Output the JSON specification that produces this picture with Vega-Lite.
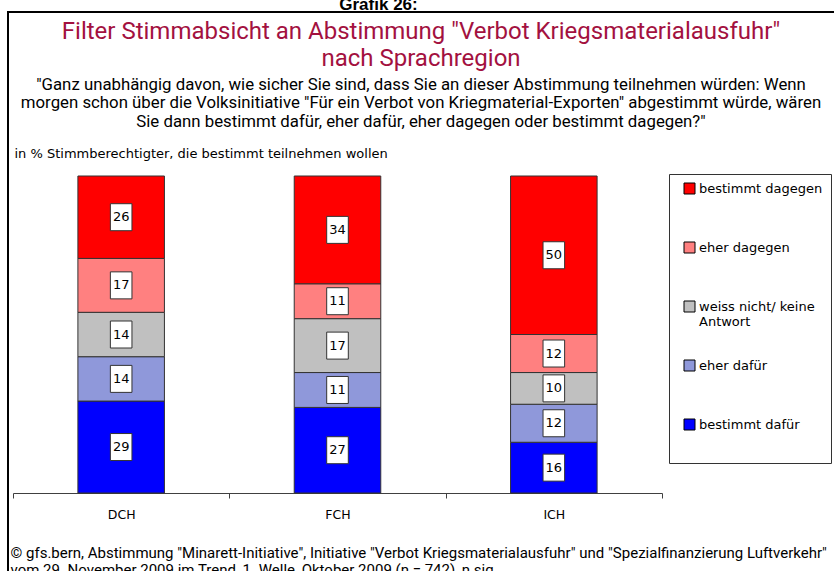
{
  "$schema": "https://vega.github.io/schema/vega-lite/v6.json",
  "width": 826,
  "height": 559,
  "autosize": {"type": "none"},
  "padding": {"left": 8, "top": 12, "right": 0, "bottom": 0},
  "background": "white",
  "config": {
    "view": {"stroke": "black", "strokeWidth": 2, "strokeDash": [826, 1385, 559]},
    "font": "DejaVu Sans"
  },
  "title": {
    "text": ["Filter Stimmabsicht an Abstimmung \"Verbot Kriegsmaterialausfuhr\"", "nach Sprachregion"],
    "subtitle": ["\"Ganz unabhängig davon, wie sicher Sie sind, dass Sie an dieser Abstimmung teilnehmen würden: Wenn", "morgen schon über die Volksinitiative \"Für ein Verbot von Kriegmaterial-Exporten\" abgestimmt würde, wären", "Sie dann bestimmt dafür, eher dafür, eher dagegen oder bestimmt dagegen?\""],
    "anchor": "middle",
    "frame": "group",
    "offset": -135,
    "font": "Roboto",
    "fontSize": 24,
    "fontWeight": "normal",
    "color": "#A3113F",
    "lineHeight": 27,
    "subtitleFont": "Roboto",
    "subtitleFontSize": 16.8,
    "subtitleColor": "black",
    "subtitleLineHeight": 18.5,
    "subtitlePadding": 6
  },
  "data": {
    "values": [
      {"region": "DCH", "cat": "bestimmt dafür", "rank": 1, "value": 29},
      {"region": "DCH", "cat": "eher dafür", "rank": 2, "value": 14},
      {"region": "DCH", "cat": "weiss nicht/ keine Antwort", "rank": 3, "value": 14},
      {"region": "DCH", "cat": "eher dagegen", "rank": 4, "value": 17},
      {"region": "DCH", "cat": "bestimmt dagegen", "rank": 5, "value": 26},
      {"region": "FCH", "cat": "bestimmt dafür", "rank": 1, "value": 27},
      {"region": "FCH", "cat": "eher dafür", "rank": 2, "value": 11},
      {"region": "FCH", "cat": "weiss nicht/ keine Antwort", "rank": 3, "value": 17},
      {"region": "FCH", "cat": "eher dagegen", "rank": 4, "value": 11},
      {"region": "FCH", "cat": "bestimmt dagegen", "rank": 5, "value": 34},
      {"region": "ICH", "cat": "bestimmt dafür", "rank": 1, "value": 16},
      {"region": "ICH", "cat": "eher dafür", "rank": 2, "value": 12},
      {"region": "ICH", "cat": "weiss nicht/ keine Antwort", "rank": 3, "value": 10},
      {"region": "ICH", "cat": "eher dagegen", "rank": 4, "value": 12},
      {"region": "ICH", "cat": "bestimmt dagegen", "rank": 5, "value": 50}
    ]
  },
  "transform": [
    {"stack": "value", "groupby": ["region"], "sort": [{"field": "rank", "order": "ascending"}], "as": ["y0", "y1"]}
  ],
  "layer": [
    {
      "mark": {"type": "bar", "stroke": "#333333", "strokeWidth": 1, "width": {"band": 0.4}},
      "encoding": {
        "x": {
          "field": "region", "type": "nominal",
          "scale": {"domain": ["DCH", "FCH", "ICH"], "range": [5, 654], "paddingInner": 0, "paddingOuter": 0},
          "axis": {
            "orient": "bottom", "offset": -78, "grid": false,
            "domain": true, "domainColor": "#404040", "domainWidth": 1,
            "ticks": true, "tickBand": "extent", "tickColor": "#404040", "tickSize": 5,
            "labelAngle": 0, "labelFont": "DejaVu Sans", "labelFontSize": 12.5, "labelColor": "black", "labelPadding": 10,
            "title": ["© gfs.bern, Abstimmung \"Minarett-Initiative\", Initiative \"Verbot Kriegsmaterialausfuhr\" und \"Spezialfinanzierung Luftverkehr\"", "vom 29. November 2009 im Trend, 1. Welle, Oktober 2009 (n = 742), n sig."],
            "titleFont": "Roboto", "titleFontSize": 15, "titleFontWeight": "normal", "titleColor": "black",
            "titleAlign": "left", "titleAnchor": "start", "titleBaseline": "alphabetic",
            "titleX": 2, "titleY": 64, "titleLineHeight": 17
          }
        },
        "y": {
          "field": "y1", "type": "quantitative",
          "scale": {"domain": [0, 100], "range": [481, 164]},
          "axis": {
            "domain": false, "ticks": false, "labels": false, "grid": false,
            "title": "in % Stimmberechtigter, die bestimmt teilnehmen wollen",
            "titleAngle": 0, "titleAlign": "left", "titleBaseline": "middle",
            "titleX": 6, "titleY": 141,
            "titleFont": "DejaVu Sans", "titleFontSize": 13, "titleFontWeight": "normal", "titleColor": "black"
          }
        },
        "y2": {"field": "y0"},
        "color": {
          "field": "cat", "type": "nominal",
          "scale": {
            "domain": ["bestimmt dagegen", "eher dagegen", "weiss nicht/ keine Antwort", "eher dafür", "bestimmt dafür"],
            "range": ["#FF0000", "#FF8080", "#C0C0C0", "#8F98DA", "#0000FF"]
          },
          "legend": {
            "orient": "none", "legendX": 661, "legendY": 162,
            "title": " ", "titleOrient": "bottom", "titleFontSize": 13, "titlePadding": 10,
            "strokeColor": "#333333", "fillColor": "white", "padding": 8,
            "symbolType": "square", "symbolSize": 121, "symbolStrokeColor": "black", "symbolStrokeWidth": 1, "symbolOffset": 6,
            "labelFont": "DejaVu Sans", "labelFontSize": 13, "labelColor": "black", "labelOffset": 3, "labelLimit": 200,
            "rowPadding": 29, "gridAlign": "all",
            "labelExpr": "datum.label == 'weiss nicht/ keine Antwort' ? ['weiss nicht/ keine', 'Antwort'] : datum.label"
          }
        }
      }
    },
    {
      "transform": [
        {"fold": ["y0", "y1"], "as": ["k", "v"]},
        {"aggregate": [{"op": "mean", "field": "v", "as": "mid"}], "groupby": ["region", "cat", "value"]}
      ],
      "encoding": {
        "x": {
          "field": "region", "type": "nominal",
          "axis": {
            "orient": "top", "domain": false, "ticks": false, "labels": false, "grid": false,
            "title": "Grafik 26:", "titleFont": "Liberation Sans", "titleFontSize": 17, "titleFontWeight": "bold", "titleColor": "black",
            "titleAlign": "center", "titleBaseline": "alphabetic", "titleX": 370, "titleY": -2.5
          }
        },
        "y": {"field": "mid", "type": "quantitative", "axis": null}
      },
      "layer": [
        {"mark": {"type": "point", "shape": "M-0.8,-1H0.8V1H-0.8Z", "filled": true, "fill": "white", "stroke": "#333333", "strokeWidth": 1, "size": 729, "opacity": 1}},
        {"mark": {"type": "text", "font": "DejaVu Sans", "fontSize": 13, "color": "black", "baseline": "middle", "align": "center"},
         "encoding": {"text": {"field": "value", "type": "quantitative"}}}
      ]
    }
  ],
  "resolve": {"axis": {"x": "independent", "y": "independent"}}
}
